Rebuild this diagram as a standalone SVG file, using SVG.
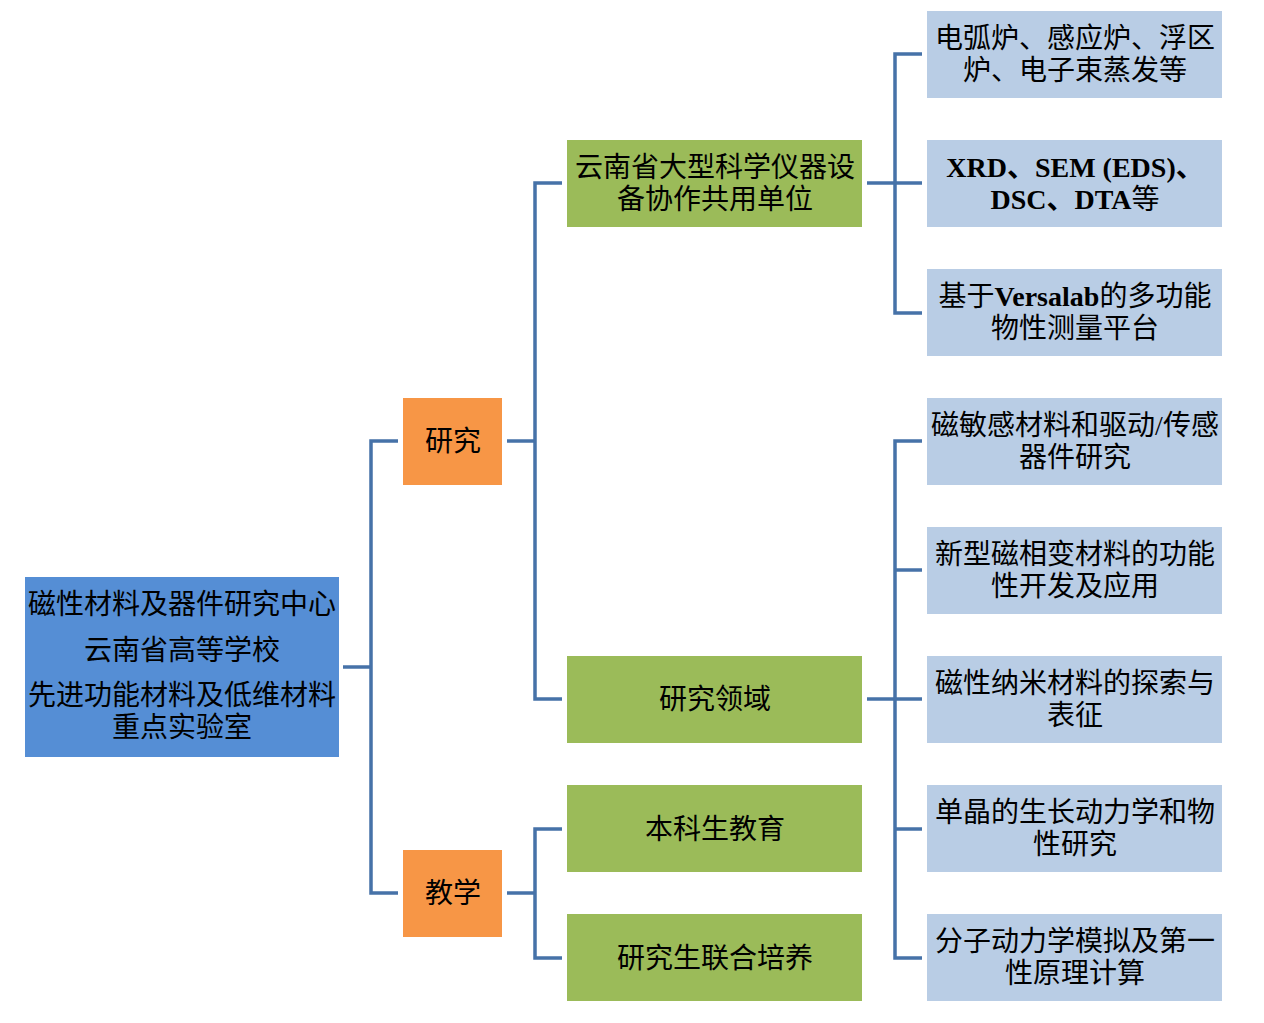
<svg xmlns="http://www.w3.org/2000/svg" width="1264" height="1023" viewBox="0 0 1264 1023">
<style>
.t{font-family:"Liberation Serif","Noto Sans CJK SC",serif;font-size:28px;fill:#000;text-anchor:middle}
.b{font-weight:bold}
.n{font-weight:normal}
.c{fill:none;stroke:#4672A8;stroke-width:3.5}
.root{fill:#558ED5}
.or{fill:#F79646}
.gr{fill:#9BBB59}
.lb{fill:#B9CDE5}
</style>
<rect width="1264" height="1023" fill="#fff"/>
<g id="connectors">
<path class="c" d="M343,667 H371"/>
<path class="c" d="M398,441 H371 V893 H398"/>
<path class="c" d="M507,441 H535"/>
<path class="c" d="M562,183 H535 V699 H562"/>
<path class="c" d="M507,893 H535"/>
<path class="c" d="M562,829 H535 V958 H562"/>
<path class="c" d="M867,183 H922"/>
<path class="c" d="M922,54 H895 V313 H922"/>
<path class="c" d="M867,699 H922"/>
<path class="c" d="M922,441 H895 V958 H922"/>
<path class="c" d="M895,570 H922"/>
<path class="c" d="M895,829 H922"/>
</g>
<g id="root">
<rect class="root" x="25" y="577" width="314" height="180"/>
<text class="t" x="182" y="614">磁性材料及器件研究中心</text>
<text class="t" x="182" y="660">云南省高等学校</text>
<text class="t" x="182" y="705">先进功能材料及低维材料</text>
<text class="t" x="182" y="737">重点实验室</text>
</g>
<g id="research">
<rect class="or" x="403" y="398" width="99" height="87"/>
<text class="t" x="453" y="451">研究</text>
</g>
<g id="teaching">
<rect class="or" x="403" y="850" width="99" height="87"/>
<text class="t" x="453" y="903">教学</text>
</g>
<g id="instrument-unit">
<rect class="gr" x="567" y="140" width="295" height="87"/>
<text class="t" x="715" y="177">云南省大型科学仪器设</text>
<text class="t" x="715" y="209">备协作共用单位</text>
</g>
<g id="research-fields">
<rect class="gr" x="567" y="656" width="295" height="87"/>
<text class="t" x="715" y="709">研究领域</text>
</g>
<g id="undergrad">
<rect class="gr" x="567" y="785" width="295" height="87"/>
<text class="t" x="715" y="839">本科生教育</text>
</g>
<g id="postgrad">
<rect class="gr" x="567" y="914" width="295" height="87"/>
<text class="t" x="715" y="968">研究生联合培养</text>
</g>
<g id="furnaces">
<rect class="lb" x="927" y="11" width="295" height="87"/>
<text class="t" x="1075" y="48">电弧炉、感应炉、浮区</text>
<text class="t" x="1075" y="80">炉、电子束蒸发等</text>
</g>
<g id="xrd">
<rect class="lb" x="927" y="140" width="295" height="87"/>
<text class="t b" x="1075" y="177">XRD、SEM (EDS)、</text>
<text class="t b" x="1075" y="209">DSC、DTA<tspan class="n">等</tspan></text>
</g>
<g id="versalab">
<rect class="lb" x="927" y="269" width="295" height="87"/>
<text class="t" x="1075" y="306">基于<tspan class="b">Versalab</tspan>的多功能</text>
<text class="t" x="1075" y="338">物性测量平台</text>
</g>
<g id="field1">
<rect class="lb" x="927" y="398" width="295" height="87"/>
<text class="t" x="1075" y="435">磁敏感材料和驱动/传感</text>
<text class="t" x="1075" y="467">器件研究</text>
</g>
<g id="field2">
<rect class="lb" x="927" y="527" width="295" height="87"/>
<text class="t" x="1075" y="564">新型磁相变材料的功能</text>
<text class="t" x="1075" y="596">性开发及应用</text>
</g>
<g id="field3">
<rect class="lb" x="927" y="656" width="295" height="87"/>
<text class="t" x="1075" y="693">磁性纳米材料的探索与</text>
<text class="t" x="1075" y="725">表征</text>
</g>
<g id="field4">
<rect class="lb" x="927" y="785" width="295" height="87"/>
<text class="t" x="1075" y="822">单晶的生长动力学和物</text>
<text class="t" x="1075" y="854">性研究</text>
</g>
<g id="field5">
<rect class="lb" x="927" y="914" width="295" height="87"/>
<text class="t" x="1075" y="951">分子动力学模拟及第一</text>
<text class="t" x="1075" y="983">性原理计算</text>
</g>
</svg>
